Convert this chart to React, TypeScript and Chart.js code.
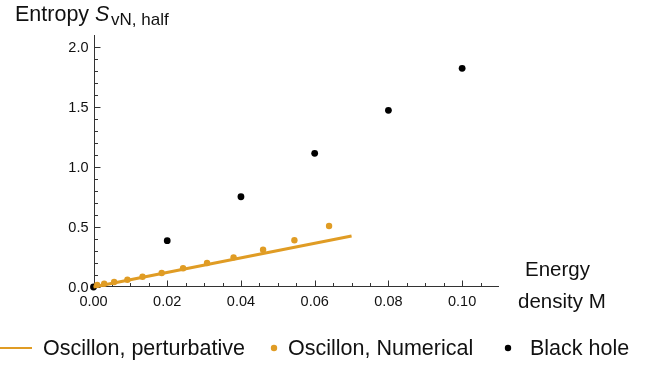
import React, { useEffect, useRef } from "react";
import { Chart, registerables } from "chart.js";
Chart.register(...registerables);

const ORANGE = "rgb(224,156,36)";
const TEXT = "#111";
const FONT = '"Liberation Sans", Arial, sans-serif';

// Data
const blackHoleM = [0, 0.02, 0.04, 0.06, 0.08, 0.1];
const blackHoleS = [0, 0.386, 0.752, 1.114, 1.472, 1.822];
const numericalM = [0.001, 0.0029, 0.0056, 0.0092, 0.0133, 0.0185, 0.0243, 0.0308, 0.038, 0.046, 0.0545, 0.0639];
const numericalS = [0.018, 0.027, 0.042, 0.061, 0.085, 0.117, 0.156, 0.2, 0.247, 0.311, 0.389, 0.508];
const perturbM = [0, 0.07];
const perturbS = [0, 0.425];

// Ticks
const xMajor = [0, 0.02, 0.04, 0.06, 0.08, 0.1];
const xMajorLabels = ["0.00", "0.02", "0.04", "0.06", "0.08", "0.10"];
const xMinor = [0.005, 0.01, 0.015, 0.025, 0.03, 0.035, 0.045, 0.05, 0.055, 0.065, 0.07, 0.075, 0.085, 0.09, 0.095, 0.105];
const yMajor = [0, 0.5, 1, 1.5, 2];
const yMajorLabels = ["0.0", "0.5", "1.0", "1.5", "2.0"];
const yMinor = [0.1, 0.2, 0.3, 0.4, 0.6, 0.7, 0.8, 0.9, 1.1, 1.2, 1.3, 1.4, 1.6, 1.7, 1.8, 1.9];

const legendLabels = ["Oscillon, perturbative", "Oscillon, Numerical", "Black hole"];

const toPts = (xs: number[], ys: number[]) => xs.map((x, i) => ({ x, y: ys[i] }));

const axesPlugin = {
  id: "mmaAxes",
  beforeDatasetsDraw(chart: any) {
    const { ctx, chartArea, scales } = chart;
    const { left, right, top, bottom } = chartArea;
    const xs = scales.x;
    const ys = scales.y;
    const x0 = Math.round(xs.getPixelForValue(0)) + 0.5;
    const y0 = Math.round(ys.getPixelForValue(0)) - 0.5;
    ctx.save();
    ctx.strokeStyle = "#333";
    ctx.lineWidth = 1;
    ctx.beginPath();
    ctx.moveTo(left, y0);
    ctx.lineTo(right, y0);
    ctx.moveTo(x0, bottom);
    ctx.lineTo(x0, top);
    for (const v of xMajor) {
      const px = Math.round(xs.getPixelForValue(v)) + 0.5;
      ctx.moveTo(px, y0);
      ctx.lineTo(px, y0 - 6);
    }
    for (const v of xMinor) {
      const px = Math.round(xs.getPixelForValue(v)) + 0.5;
      ctx.moveTo(px, y0);
      ctx.lineTo(px, y0 - 3.5);
    }
    for (const v of yMajor) {
      const py = Math.round(ys.getPixelForValue(v)) + 0.5;
      ctx.moveTo(x0, py);
      ctx.lineTo(x0 + 6, py);
    }
    for (const v of yMinor) {
      const py = Math.round(ys.getPixelForValue(v)) + 0.5;
      ctx.moveTo(x0, py);
      ctx.lineTo(x0 + 3.5, py);
    }
    ctx.stroke();

    ctx.fillStyle = TEXT;
    ctx.font = `14.5px ${FONT}`;
    ctx.textAlign = "center";
    ctx.textBaseline = "alphabetic";
    xMajor.forEach((v, i) => {
      ctx.fillText(xMajorLabels[i], xs.getPixelForValue(v), 306);
    });
    ctx.textAlign = "right";
    ctx.textBaseline = "middle";
    yMajor.forEach((v, i) => {
      ctx.fillText(yMajorLabels[i], 88.5, ys.getPixelForValue(v) + 0.5);
    });
    ctx.restore();
  },
  afterDraw(chart: any) {
    const { ctx } = chart;
    ctx.save();
    ctx.fillStyle = TEXT;
    ctx.textAlign = "left";
    ctx.textBaseline = "alphabetic";
    // Title
    ctx.font = `21.5px ${FONT}`;
    ctx.fillText("Entropy", 15, 21);
    ctx.font = `italic 21.5px ${FONT}`;
    ctx.fillText("S", 95, 21);
    ctx.font = `17px ${FONT}`;
    ctx.fillText("vN, half", 111, 25);
    // Axis label
    ctx.font = `20.5px ${FONT}`;
    ctx.fillText("Energy", 525, 276);
    ctx.fillText("density M", 518, 308);
    // Legend
    ctx.strokeStyle = ORANGE;
    ctx.lineWidth = 2;
    ctx.beginPath();
    ctx.moveTo(0, 348);
    ctx.lineTo(32, 348);
    ctx.stroke();
    ctx.font = `21.5px ${FONT}`;
    ctx.fillText(legendLabels[0], 43, 355);
    ctx.fillStyle = ORANGE;
    ctx.beginPath();
    ctx.arc(274, 348, 3.2, 0, Math.PI * 2);
    ctx.fill();
    ctx.fillStyle = TEXT;
    ctx.fillText(legendLabels[1], 288, 355);
    ctx.fillStyle = "#000";
    ctx.beginPath();
    ctx.arc(508, 348, 3.2, 0, Math.PI * 2);
    ctx.fill();
    ctx.fillStyle = TEXT;
    ctx.fillText(legendLabels[2], 530, 355);
    ctx.restore();
  },
};

export default function App() {
  const ref = useRef<HTMLCanvasElement | null>(null);
  useEffect(() => {
    if (!ref.current) return;
    const chart = new Chart(ref.current, {
      type: "scatter",
      data: {
        datasets: [
          {
            label: legendLabels[0],
            data: toPts(perturbM, perturbS),
            showLine: true,
            borderColor: ORANGE,
            backgroundColor: ORANGE,
            borderWidth: 3,
            pointRadius: 0,
            clip: false as any,
          },
          {
            label: legendLabels[1],
            data: toPts(numericalM, numericalS),
            backgroundColor: ORANGE,
            borderWidth: 0,
            pointRadius: 3.2,
            clip: false as any,
          },
          {
            label: legendLabels[2],
            data: toPts(blackHoleM, blackHoleS),
            backgroundColor: "#000",
            borderWidth: 0,
            pointRadius: 3.4,
            clip: false as any,
          },
        ],
      },
      options: {
        responsive: false,
        animation: false,
        devicePixelRatio: 1,
        layout: { padding: { left: 0, top: 35, right: 152, bottom: 0 } },
        plugins: { legend: { display: false }, tooltip: { enabled: false } },
        scales: {
          x: {
            type: "linear",
            min: 0,
            max: 0.11,
            grid: { display: false },
            border: { display: false },
            ticks: { display: false },
            afterFit: (s: any) => {
              s.height = 79;
            },
          },
          y: {
            type: "linear",
            min: 0,
            max: 2.1,
            grid: { display: false },
            border: { display: false },
            ticks: { display: false },
            afterFit: (s: any) => {
              s.width = 93.5;
            },
          },
        },
      },
      plugins: [axesPlugin],
    });
    return () => chart.destroy();
  }, []);
  return (
    <div style={{ position: "absolute", left: 0, top: 0, width: 651, height: 366, background: "#fff" }}>
      <canvas ref={ref} width={651} height={366} style={{ width: 651, height: 366, display: "block" }} />
    </div>
  );
}
